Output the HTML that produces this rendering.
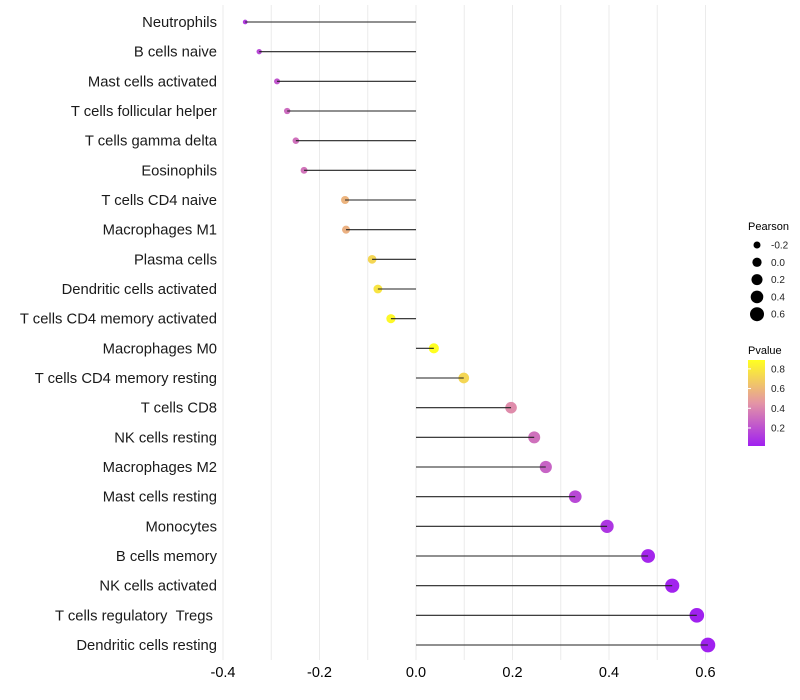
<!DOCTYPE html>
<html><head><meta charset="utf-8"><style>
body{margin:0;background:#fff;}
svg{display:block;font-family:"Liberation Sans",sans-serif;}
</style></head><body>
<svg id="chart" width="800" height="700">
<defs>
<linearGradient id="pgrad" x1="0" y1="1" x2="0" y2="0">
<stop offset="0" stop-color="#A020F0"/><stop offset="0.5" stop-color="#E495A5"/><stop offset="1" stop-color="#FFFF20"/>
</linearGradient>
</defs>
<g id="grid"></g>
<g id="marks"></g>
<g id="ylabels"></g>
<g id="xlabels"></g>
<g font-size="10">
<text x="748" y="230" font-size="11">Pearson</text>
<g id="sizeleg"></g>
</g>
<g font-size="10">
<text x="748" y="354" font-size="11">Pvalue</text>
<rect x="748" y="360" width="17" height="86" fill="url(#pgrad)"/>
<g id="colleg"></g>
</g>
</svg>
<script>
const categories=["Neutrophils","B cells naive","Mast cells activated","T cells follicular helper","T cells gamma delta","Eosinophils","T cells CD4 naive","Macrophages M1","Plasma cells","Dendritic cells activated","T cells CD4 memory activated","Macrophages M0","T cells CD4 memory resting","T cells CD8","NK cells resting","Macrophages M2","Mast cells resting","Monocytes","B cells memory","NK cells activated","T cells regulatory \u00a0Tregs\u00a0","Dendritic cells resting"];
const pearson=[-0.354,-0.325,-0.288,-0.267,-0.249,-0.232,-0.147,-0.145,-0.091,-0.079,-0.052,0.037,0.099,0.197,0.245,0.269,0.330,0.396,0.481,0.531,0.582,0.605];
const pvalue=[0.12,0.17,0.22,0.3,0.32,0.33,0.58,0.57,0.72,0.78,0.86,0.9,0.72,0.42,0.32,0.27,0.17,0.1,0.04,0.03,0.02,0.02];
const xTicks=[-0.4,-0.2,0,0.2,0.4,0.6];
const sizeLegendVals=[-0.2,0,0.2,0.4,0.6];
const colorLegendVals=[0.2,0.4,0.6,0.8];
const NS="http://www.w3.org/2000/svg";
const X=v=>416+v*482.5;
const Y=i=>22+i*(623/21);
const R=v=>Math.sqrt(Math.max(1.5,21.4+45.9*v));
const CY=p=>446-(p-0.017)/(0.89-0.017)*86;
function lerp(a,b,t){return a.map((x,i)=>Math.round(x+(b[i]-x)*t));}
function col(p){const t=Math.max(0,Math.min(1,(p-0.017)/(0.89-0.017)));
const c0=[160,32,240],c1=[228,149,165],c2=[255,255,32];
const c=t<0.5?lerp(c0,c1,t*2):lerp(c1,c2,(t-0.5)*2);return `rgb(${c})`;}
function mk(tag,at,parent){const e=document.createElementNS(NS,tag);for(const k in at)e.setAttribute(k,at[k]);parent.appendChild(e);return e;}
const grid=document.getElementById('grid'),marks=document.getElementById('marks'),yl=document.getElementById('ylabels'),xl=document.getElementById('xlabels');
for(let v=-0.4;v<=0.61;v+=0.1){const g=mk('line',{x1:X(v),x2:X(v),y1:5,y2:660,stroke:'#ebebeb','stroke-width':1},grid);

}
xTicks.forEach(t=>{const e=mk('text',{x:X(t),y:677,'text-anchor':'middle','font-size':14.5,fill:'#000'},xl);e.textContent=t===0?'0.0':t.toFixed(1);

});
categories.forEach((c,i)=>{const y=Y(i);
const t=mk('text',{x:217,y:y+5,'text-anchor':'end','font-size':14.8,fill:'#1a1a1a'},yl);t.textContent=c;


const d=mk('circle',{cx:X(pearson[i]),cy:y,r:R(pearson[i])*1.05,fill:col(pvalue[i])},marks);


const l=mk('line',{x1:X(pearson[i]),x2:X(0),y1:y,y2:y,stroke:'#222','stroke-width':1.1},marks);

});
const sl=document.getElementById('sizeleg');
sizeLegendVals.forEach((v,i)=>{const y=245+i*17.3;
const c=mk('circle',{cx:757,cy:y,r:R(v),fill:'#000'},sl);


const t=mk('text',{x:771,y:y+3.5,fill:'#222'},sl);t.textContent=v.toFixed(1);

});
const cl=document.getElementById('colleg');
colorLegendVals.forEach(p=>{const y=CY(p);
const t=mk('text',{x:771,y:y+3.5,fill:'#222'},cl);t.textContent=p.toFixed(1);


const k=mk('line',{x1:748,x2:751,y1:y,y2:y,stroke:'#fff'},cl);

});
</script>
</body></html>
